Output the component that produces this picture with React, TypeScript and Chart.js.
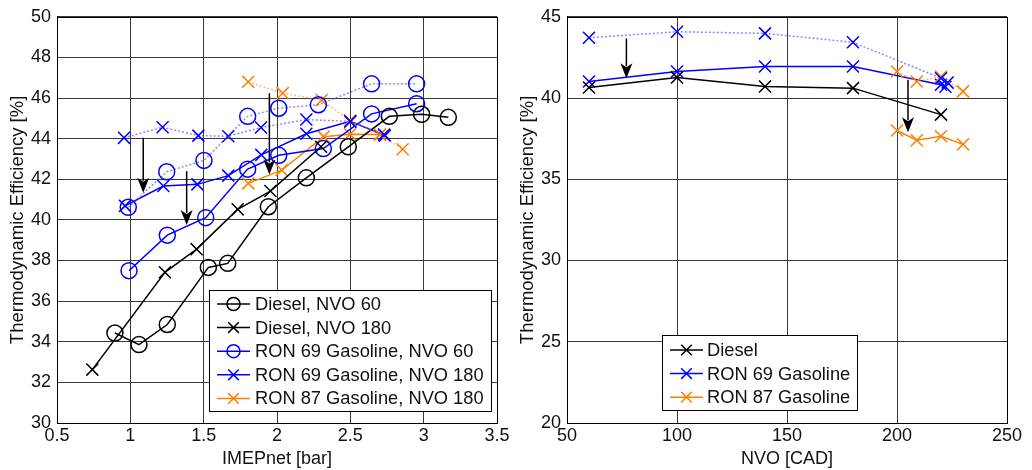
import React, { useEffect, useRef } from 'react';
import { Chart, registerables } from 'chart.js';

Chart.register(...registerables);

// ---------- Left panel: efficiency vs IMEPnet ----------
const leftXTicks = [0.5, 1, 1.5, 2, 2.5, 3, 3.5];
const leftYTicks = [30, 32, 34, 36, 38, 40, 42, 44, 46, 48, 50];

const dieselNvo60X = [0.895, 1.059, 1.252, 1.532, 1.664, 1.941, 2.2, 2.486, 2.766, 2.986, 3.168];
const dieselNvo60Y = [34.43, 33.86, 34.85, 37.66, 37.86, 40.65, 42.07, 43.6, 45.1, 45.2, 45.05];

const dieselNvo180X = [0.741, 1.236, 1.452, 1.732, 1.955, 2.3];
const dieselNvo180Y = [32.63, 37.42, 38.56, 40.52, 41.42, 43.6];

const ron69Nvo60X = [0.991, 1.252, 1.514, 1.8, 2.012, 2.316, 2.645, 2.952];
const ron69Nvo60Y = [37.5, 39.25, 40.11, 42.5, 43.18, 43.51, 45.22, 45.72];
const ron69Nvo60RefX = [0.986, 1.248, 1.502, 1.8, 2.012, 2.282, 2.645, 2.952];
const ron69Nvo60RefY = [40.62, 42.37, 42.93, 45.1, 45.5, 45.67, 46.7, 46.7];

const ron69Nvo180X = [0.964, 1.225, 1.457, 1.668, 1.893, 2.2, 2.5, 2.735];
const ron69Nvo180Y = [40.69, 41.67, 41.75, 42.18, 43.2, 44.24, 44.85, 44.15];
const ron69Nvo180RefX = [0.957, 1.22, 1.464, 1.668, 1.891, 2.2, 2.5, 2.73];
const ron69Nvo180RefY = [44.04, 44.56, 44.15, 44.12, 44.55, 44.94, 44.85, 44.2];

const ron87Nvo180X = [1.804, 2.032, 2.318, 2.498, 2.702];
const ron87Nvo180Y = [41.8, 42.45, 44.1, 44.22, 44.2];
const ron87Nvo180RefX = [1.804, 2.039, 2.305, 2.498, 2.702, 2.857];
const ron87Nvo180RefY = [46.8, 46.24, 45.9, 44.9, 44.2, 43.48];

const leftArrowX = [1.088, 1.384, 1.948];
const leftArrowFrom = [44.04, 42.4, 46.24];
const leftArrowTo = [41.34, 39.75, 42.24];

const leftLegendLabels = [
  'Diesel, NVO 60',
  'Diesel, NVO 180',
  'RON 69 Gasoline, NVO 60',
  'RON 69 Gasoline, NVO 180',
  'RON 87 Gasoline, NVO 180',
];

// ---------- Right panel: efficiency vs NVO ----------
const rightXTicks = [50, 100, 150, 200, 250];
const rightYTicks = [20, 25, 30, 35, 40, 45];

const dieselNvoX = [60, 100, 140, 180, 220];
const dieselNvoY = [40.65, 41.27, 40.71, 40.61, 38.98];

const ron69NvoX = [60, 100, 140, 180, 220, 222];
const ron69NvoY = [41.02, 41.63, 41.94, 41.94, 40.82, 40.7];
const ron69NvoRefX = [60, 100, 140, 180, 220, 223];
const ron69NvoRefY = [43.71, 44.08, 43.98, 43.43, 41.22, 40.95];

const ron87NvoX = [200, 209, 220, 230];
const ron87NvoY = [38.0, 37.4, 37.65, 37.15];
const ron87NvoRefX = [200, 209, 220, 230];
const ron87NvoRefY = [41.63, 41.02, 41.33, 40.41];

const rightArrowX = [77, 205];
const rightArrowFrom = [43.67, 41.12];
const rightArrowTo = [41.22, 37.9];

const rightLegendLabels = ['Diesel', 'RON 69 Gasoline', 'RON 87 Gasoline'];

// ---------- styling ----------
const BLACK = '#000000';
const BLUE = '#0000ff';
const ORANGE = '#ff8000';
const BLUE_FAINT = 'rgba(60,60,255,0.6)';
const ORANGE_FAINT = 'rgba(255,140,40,0.6)';
const FONT_FAMILY = "'Liberation Sans', Arial, Helvetica, sans-serif";
const GRID = '#3a3a3a';

const zip = (xs: number[], ys: number[]) => xs.map((x, i) => ({ x, y: ys[i] }));

function solidSet(xs: number[], ys: number[], color: string, marker: string) {
  return {
    data: zip(xs, ys),
    borderColor: color,
    borderWidth: 1.5,
    pointStyle: marker,
    pointRadius: marker === 'circle' ? 8 : 8.5,
    pointBorderColor: color,
    pointBackgroundColor: 'rgba(0,0,0,0)',
    pointBorderWidth: 1.5,
    tension: 0,
    fill: false,
  };
}

function refSet(xs: number[], ys: number[], lineColor: string, color: string, marker: string) {
  return {
    data: zip(xs, ys),
    borderColor: lineColor,
    borderWidth: 1.5,
    borderDash: [2, 2],
    pointStyle: marker,
    pointRadius: marker === 'circle' ? 8 : 8.5,
    pointBorderColor: color,
    pointBackgroundColor: 'rgba(0,0,0,0)',
    pointBorderWidth: 1.5,
    tension: 0,
    fill: false,
  };
}

function drawMarker(ctx: CanvasRenderingContext2D, style: string, cx: number, cy: number, r: number) {
  ctx.beginPath();
  if (style === 'circle') {
    ctx.arc(cx, cy, r, 0, Math.PI * 2);
  } else {
    const d = r * Math.SQRT1_2;
    ctx.moveTo(cx - d, cy - d);
    ctx.lineTo(cx + d, cy + d);
    ctx.moveTo(cx - d, cy + d);
    ctx.lineTo(cx + d, cy - d);
  }
  ctx.stroke();
}

function framePlugin() {
  return {
    id: 'frame',
    beforeDatasetsDraw(chart: any) {
      const { ctx, chartArea } = chart;
      ctx.save();
      ctx.strokeStyle = BLACK;
      ctx.lineWidth = 1;
      ctx.strokeRect(
        Math.round(chartArea.left) + 0.5,
        Math.round(chartArea.top) + 0.5,
        Math.round(chartArea.right - chartArea.left),
        Math.round(chartArea.bottom - chartArea.top)
      );
      ctx.restore();
    },
  };
}

function arrowPlugin(xs: number[], from: number[], to: number[]) {
  return {
    id: 'arrows',
    afterDatasetsDraw(chart: any) {
      const { ctx } = chart;
      const sx = chart.scales.x;
      const sy = chart.scales.y;
      ctx.save();
      ctx.strokeStyle = BLACK;
      ctx.fillStyle = BLACK;
      ctx.lineWidth = 1.5;
      xs.forEach((xv, i) => {
        const px = sx.getPixelForValue(xv);
        const y1 = sy.getPixelForValue(from[i]);
        const y2 = sy.getPixelForValue(to[i]);
        const head = 15;
        ctx.beginPath();
        ctx.moveTo(px, y1);
        ctx.lineTo(px, y2 - head + 3);
        ctx.stroke();
        ctx.beginPath();
        ctx.moveTo(px, y2);
        ctx.lineTo(px - 6, y2 - head);
        ctx.lineTo(px, y2 - head + 4);
        ctx.lineTo(px + 6, y2 - head);
        ctx.closePath();
        ctx.fill();
      });
      ctx.restore();
    },
  };
}

type LegendEntry = { label: string; color: string; marker: string };
type LegendBox = { x: number; y: number; w: number; h: number; row0: number; rowH: number; lineX0: number; lineX1: number; textX: number };

function legendPlugin(entries: LegendEntry[], box: LegendBox) {
  return {
    id: 'boxLegend',
    afterDraw(chart: any) {
      const { ctx } = chart;
      ctx.save();
      ctx.fillStyle = '#ffffff';
      ctx.fillRect(box.x, box.y, box.w, box.h);
      ctx.strokeStyle = BLACK;
      ctx.lineWidth = 1;
      ctx.strokeRect(box.x + 0.5, box.y + 0.5, box.w, box.h);
      ctx.font = `18.3px ${FONT_FAMILY}`;
      ctx.textBaseline = 'middle';
      ctx.textAlign = 'left';
      entries.forEach((e, i) => {
        const cy = box.row0 + i * box.rowH;
        ctx.strokeStyle = e.color;
        ctx.lineWidth = 1.5;
        ctx.beginPath();
        ctx.moveTo(box.lineX0, cy);
        ctx.lineTo(box.lineX1, cy);
        ctx.stroke();
        drawMarker(ctx, e.marker, (box.lineX0 + box.lineX1) / 2, cy, e.marker === 'circle' ? 6.5 : 7.5);
        ctx.fillStyle = '#111';
        ctx.fillText(e.label, box.textX, cy + 1);
      });
      ctx.restore();
    },
  };
}

function makeOptions(
  xMin: number, xMax: number, xTicks: number[], xTitle: string,
  yMin: number, yMax: number, yTicks: number[],
  yWidth: number, yTitlePad: number, rightPad: number
) {
  const font = { family: FONT_FAMILY, size: 18 };
  return {
    animation: false,
    responsive: false,
    maintainAspectRatio: false,
    layout: { padding: { left: 0, top: 15, right: rightPad, bottom: 0 } },
    plugins: { legend: { display: false }, tooltip: { enabled: false } },
    scales: {
      x: {
        type: 'linear',
        min: xMin,
        max: xMax,
        afterBuildTicks: (s: any) => { s.ticks = xTicks.map((v) => ({ value: v })); },
        afterFit: (s: any) => { s.height = 47; },
        ticks: { font, color: '#111', padding: 2, maxRotation: 0, autoSkip: false, callback: (v: any) => String(v) },
        grid: { color: GRID, lineWidth: 1, drawTicks: false },
        border: { color: BLACK, width: 1 },
        title: { display: true, text: xTitle, font, color: '#111', padding: { top: 0, bottom: 0 } },
      },
      y: {
        type: 'linear',
        min: yMin,
        max: yMax,
        afterBuildTicks: (s: any) => { s.ticks = yTicks.map((v) => ({ value: v })); },
        afterFit: (s: any) => { s.width = yWidth; },
        ticks: { font, color: '#111', padding: 6, autoSkip: false, callback: (v: any) => String(v) },
        grid: { color: GRID, lineWidth: 1, drawTicks: false },
        border: { color: BLACK, width: 1 },
        title: { display: true, text: 'Thermodynamic Efficiency [%]', font: { family: FONT_FAMILY, size: 18.5 }, color: '#111', padding: { top: yTitlePad, bottom: 0 } },
      },
    },
  };
}

export default function App() {
  const leftRef = useRef<HTMLCanvasElement | null>(null);
  const rightRef = useRef<HTMLCanvasElement | null>(null);

  useEffect(() => {
    const leftColors = [BLACK, BLACK, BLUE, BLUE, ORANGE];
    const leftMarkers = ['circle', 'crossRot', 'circle', 'crossRot', 'crossRot'];
    const leftChart = new Chart(leftRef.current as HTMLCanvasElement, {
      type: 'line',
      data: {
        datasets: [
          refSet(ron69Nvo60RefX, ron69Nvo60RefY, BLUE_FAINT, BLUE, 'circle'),
          refSet(ron69Nvo180RefX, ron69Nvo180RefY, BLUE_FAINT, BLUE, 'crossRot'),
          refSet(ron87Nvo180RefX, ron87Nvo180RefY, ORANGE_FAINT, ORANGE, 'crossRot'),
          solidSet(dieselNvo60X, dieselNvo60Y, BLACK, 'circle'),
          solidSet(dieselNvo180X, dieselNvo180Y, BLACK, 'crossRot'),
          solidSet(ron69Nvo60X, ron69Nvo60Y, BLUE, 'circle'),
          solidSet(ron69Nvo180X, ron69Nvo180Y, BLUE, 'crossRot'),
          solidSet(ron87Nvo180X, ron87Nvo180Y, ORANGE, 'crossRot'),
        ] as any,
      },
      options: makeOptions(0.5, 3.5, leftXTicks, 'IMEPnet [bar]', 30, 50, leftYTicks, 57, 7, 19) as any,
      plugins: [
        framePlugin(),
        arrowPlugin(leftArrowX, leftArrowFrom, leftArrowTo),
        legendPlugin(
          leftLegendLabels.map((label, i) => ({ label, color: leftColors[i], marker: leftMarkers[i] })),
          { x: 209, y: 290, w: 282, h: 121, row0: 304, rowH: 23.6, lineX0: 217, lineX1: 250, textX: 255 }
        ),
      ] as any,
    });

    const rightColors = [BLACK, BLUE, ORANGE];
    const rightChart = new Chart(rightRef.current as HTMLCanvasElement, {
      type: 'line',
      data: {
        datasets: [
          refSet(ron69NvoRefX, ron69NvoRefY, BLUE_FAINT, BLUE, 'crossRot'),
          refSet(ron87NvoRefX, ron87NvoRefY, ORANGE_FAINT, ORANGE, 'crossRot'),
          solidSet(dieselNvoX, dieselNvoY, BLACK, 'crossRot'),
          solidSet(ron69NvoX, ron69NvoY, BLUE, 'crossRot'),
          solidSet(ron87NvoX, ron87NvoY, ORANGE, 'crossRot'),
        ] as any,
      },
      options: makeOptions(50, 250, rightXTicks, 'NVO [CAD]', 20, 45, rightYTicks, 51, 1, 25) as any,
      plugins: [
        framePlugin(),
        arrowPlugin(rightArrowX, rightArrowFrom, rightArrowTo),
        legendPlugin(
          rightLegendLabels.map((label, i) => ({ label, color: rightColors[i], marker: 'crossRot' })),
          { x: 146, y: 335, w: 195, h: 75, row0: 350, rowH: 23.6, lineX0: 154, lineX1: 187, textX: 191 }
        ),
      ] as any,
    });

    return () => {
      leftChart.destroy();
      rightChart.destroy();
    };
  }, []);

  return (
    <div style={{ position: 'fixed', left: 0, top: 0, width: 1032, height: 470, background: '#ffffff', display: 'flex' }}>
      <canvas ref={leftRef} width={516} height={470} style={{ display: 'block', width: 516, height: 470 }} />
      <canvas ref={rightRef} width={516} height={470} style={{ display: 'block', width: 516, height: 470 }} />
    </div>
  );
}
